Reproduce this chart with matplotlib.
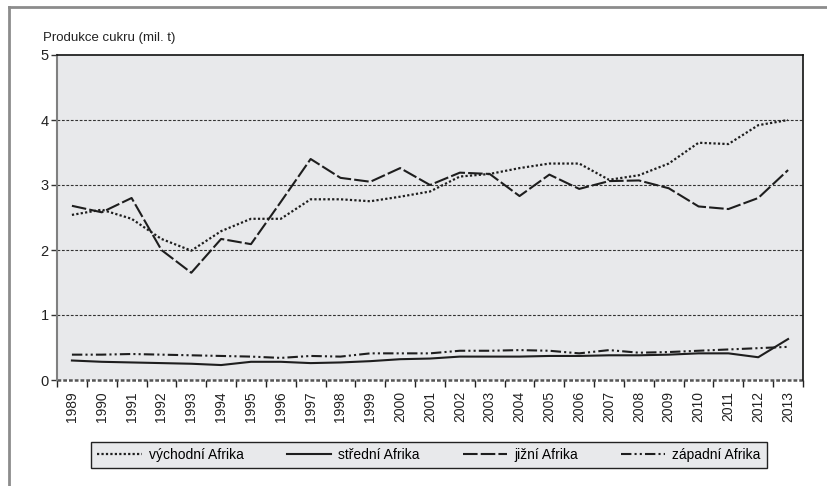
import numpy as np
import matplotlib
matplotlib.use("Agg")
import matplotlib.pyplot as plt
from matplotlib.lines import Line2D

plt.rcParams['font.family'] = ['Liberation Sans Narrow', 'Liberation Sans', 'DejaVu Sans']

# data (mil. t)
years = [str(y) for y in range(1989, 2014)]
vychodni = [2.54, 2.62, 2.48, 2.17, 1.99, 2.29, 2.48, 2.48, 2.78, 2.78, 2.75, 2.82, 2.90,
            3.13, 3.17, 3.26, 3.33, 3.33, 3.08, 3.15, 3.33, 3.65, 3.63, 3.92, 4.00]
stredni = [0.30, 0.28, 0.27, 0.26, 0.25, 0.23, 0.28, 0.28, 0.26, 0.27, 0.29, 0.32, 0.33,
           0.36, 0.36, 0.36, 0.37, 0.37, 0.38, 0.38, 0.39, 0.41, 0.41, 0.35, 0.63]
jizni = [2.68, 2.58, 2.80, 2.00, 1.65, 2.17, 2.09, 2.74, 3.40, 3.11, 3.05, 3.26, 3.00,
         3.19, 3.17, 2.83, 3.16, 2.94, 3.06, 3.07, 2.95, 2.67, 2.63, 2.80, 3.23]
zapadni = [0.39, 0.39, 0.40, 0.39, 0.38, 0.37, 0.36, 0.34, 0.37, 0.36, 0.41, 0.41, 0.41,
           0.45, 0.45, 0.46, 0.45, 0.41, 0.46, 0.42, 0.43, 0.45, 0.47, 0.49, 0.51]
labels = ['východní Afrika', 'střední Afrika', 'jižní Afrika', 'západní Afrika']

fig = plt.figure(figsize=(8.28, 4.86), dpi=100)
ax = fig.add_axes([57/828, 1-380/486, 746/828, 325/486])
ax.set_facecolor('#e8e9eb')

x = np.arange(len(years))
c = '#1e1e1e'
ax.plot(x, vychodni, color=c, lw=1.6, linestyle=(0, (1, 1)), label=labels[0], zorder=3)
ax.plot(x, stredni, color=c, lw=1.5, linestyle='-', label=labels[1], zorder=3)
ax.plot(x, jizni, color=c, lw=1.5, linestyle=(0, (7, 1.5)), label=labels[2], zorder=3)
ax.plot(x, zapadni, color=c, lw=1.5, linestyle=(0, (5, 1.5, 1, 1.5, 1, 1.5)), label=labels[3], zorder=3)

ax.set_xlim(-0.5, len(years) - 0.5)
ax.set_ylim(0, 5)

# grid
for v in [1, 2, 3, 4]:
    ax.axhline(v, color='#333333', lw=0.8, linestyle=(0, (2.5, 1.5)), zorder=1)
ax.axhline(0, color='#555555', lw=1.8, linestyle=(0, (1.5, 0.8)), zorder=2, clip_on=False)

# spines
ax.spines['left'].set_color('#808080')
ax.spines['left'].set_linewidth(1.5)
ax.spines['right'].set_color('#111111')
ax.spines['right'].set_linewidth(1.2)
ax.spines['top'].set_color('#111111')
ax.spines['top'].set_linewidth(1.2)
ax.spines['bottom'].set_visible(False)

# ticks
ax.set_yticks([0, 1, 2, 3, 4, 5])
ax.tick_params(axis='y', direction='out', length=4, width=1, colors='#333333', labelsize=10.5, labelcolor='#222222', pad=2)
ax.set_xticks(x)
ax.set_xticklabels(years, rotation=90, fontsize=10)
ax.set_xticks(np.arange(-0.5, len(years)), minor=True)
ax.tick_params(axis='x', which='major', length=0, pad=8, labelcolor='#222222')
ax.tick_params(axis='x', which='minor', length=5, width=1, color='#222222', direction='out')

fig.text(43/828, 1-38/486, 'Produkce cukru (mil. t)', fontsize=9.5, color='#222222', va='center', ha='left')

# outer frame (top and left edges visible)
fig.add_artist(Line2D([9/828, 1], [1-7/486, 1-7/486], color='#8c8c8c', lw=2, transform=fig.transFigure))
fig.add_artist(Line2D([9/828, 9/828], [0, 1-7/486], color='#8c8c8c', lw=2, transform=fig.transFigure))

leg = ax.legend(loc='lower left', bbox_to_anchor=(91/828, 1-468/486, 676/828, 30/486),
                bbox_transform=fig.transFigure, mode='expand', ncol=4, frameon=True,
                fancybox=False, handlelength=3.2, fontsize=10, borderaxespad=0,
                handletextpad=0.5, borderpad=0.45)
leg._legend_box.align = 'left'
leg.get_frame().set_facecolor('#e8e9eb')
leg.get_frame().set_edgecolor('#222222')
leg.get_frame().set_linewidth(1)
leg.get_frame().set_alpha(1)

fig.savefig('out.png', dpi=100)
